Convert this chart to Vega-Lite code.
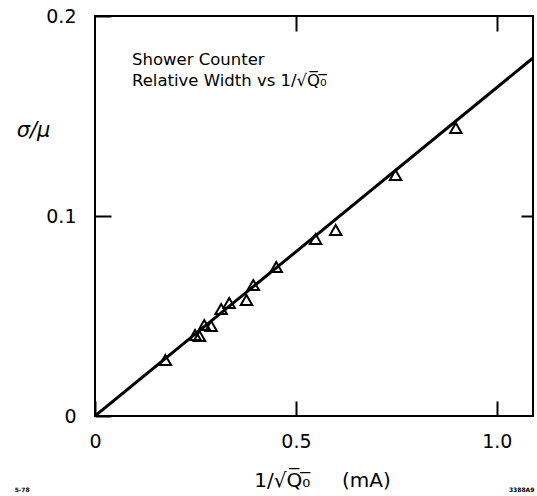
{
  "$schema": "https://vega.github.io/schema/vega-lite/v6.json",
  "width": 438,
  "height": 400,
  "autosize": {"type": "none"},
  "padding": {"left": 95, "top": 16, "right": 4, "bottom": 80},
  "background": "white",
  "config": {
    "view": {"stroke": "black", "strokeWidth": 2},
    "font": "DejaVu Sans",
    "axis": {
      "domain": false,
      "grid": false,
      "labelFlush": false,
      "tickColor": "black",
      "tickWidth": 2,
      "labelColor": "black",
      "titleColor": "black",
      "labelFont": "DejaVu Sans",
      "titleFont": "DejaVu Sans",
      "labelFontSize": 19,
      "titleFontSize": 19,
      "titleFontWeight": "normal"
    }
  },
  "datasets": {
    "fit": [
      {"q": 0, "ratio": 0},
      {"q": 1.09, "ratio": 0.179}
    ],
    "meas": [
      {"q": 0.175, "ratio": 0.028},
      {"q": 0.249, "ratio": 0.0405},
      {"q": 0.26, "ratio": 0.0400},
      {"q": 0.272, "ratio": 0.0455},
      {"q": 0.289, "ratio": 0.045},
      {"q": 0.314, "ratio": 0.0535},
      {"q": 0.334, "ratio": 0.0565},
      {"q": 0.377, "ratio": 0.058},
      {"q": 0.394, "ratio": 0.0655},
      {"q": 0.451, "ratio": 0.0745},
      {"q": 0.549, "ratio": 0.0885},
      {"q": 0.599, "ratio": 0.093},
      {"q": 0.748, "ratio": 0.1205},
      {"q": 0.898, "ratio": 0.144}
    ],
    "notes": [
      {"q": 0.092, "ratio": 0.178, "label": "Shower Counter"},
      {"q": 0.092, "ratio": 0.1675, "label": "Relative Width vs 1/√Q̅₀̅"}
    ],
    "stamps": [
      {"q": -0.2, "ratio": -0.037, "label": "5-78"},
      {"q": 1.03, "ratio": -0.037, "label": "3388A9"}
    ]
  },
  "layer": [
    {
      "data": {"name": "fit"},
      "mark": {"type": "line", "color": "black", "strokeWidth": 3, "clip": true},
      "encoding": {
        "x": {
          "field": "q", "type": "quantitative",
          "scale": {"domain": [0, 1.09], "nice": false, "zero": false},
          "axis": {
            "orient": "bottom",
            "values": [0, 0.5, 1.0],
            "tickSize": -15,
            "labelPadding": 31,
            "labelExpr": "datum.value == 0 ? '0' : format(datum.value, '.1f')",
            "title": "1/√Q̅₀̅\u00a0\u00a0\u00a0\u00a0\u00a0(mA)",
            "titleFontSize": 20,
            "titleX": 227,
            "titleY": 64,
            "titleBaseline": "middle"
          }
        },
        "y": {
          "field": "ratio", "type": "quantitative",
          "scale": {"domain": [0, 0.2], "nice": false, "zero": false},
          "axis": {
            "orient": "left",
            "values": [0, 0.1, 0.2],
            "tickSize": -16,
            "labelPadding": 35,
            "labelExpr": "datum.value == 0 ? '0' : format(datum.value, '.1f')",
            "title": "σ/μ",
            "titleAngle": 0,
            "titleFontSize": 21,
            "titleFontStyle": "italic",
            "titleX": -62,
            "titleY": 114,
            "titleAlign": "center",
            "titleBaseline": "middle"
          }
        }
      }
    },
    {
      "data": {"name": "meas"},
      "mark": {"type": "point", "shape": "triangle-up", "filled": false, "color": "black", "strokeWidth": 2, "size": 130, "opacity": 1},
      "encoding": {
        "x": {
          "field": "q", "type": "quantitative",
          "axis": {"orient": "top", "values": [0.5, 1.0], "tickSize": -15, "labels": false, "title": null}
        },
        "y": {
          "field": "ratio", "type": "quantitative",
          "axis": {"orient": "right", "values": [0.1], "tickSize": -12, "labels": false, "title": null}
        }
      }
    },
    {
      "data": {"name": "notes"},
      "mark": {"type": "text", "align": "left", "baseline": "middle", "fontSize": 16.5, "font": "DejaVu Sans", "color": "black"},
      "encoding": {
        "x": {"field": "q", "type": "quantitative", "axis": null},
        "y": {"field": "ratio", "type": "quantitative", "axis": null},
        "text": {"field": "label"}
      }
    },
    {
      "data": {"name": "stamps"},
      "mark": {"type": "text", "align": "left", "baseline": "middle", "fontSize": 6, "fontWeight": "bold", "font": "DejaVu Sans", "color": "black"},
      "encoding": {
        "x": {"field": "q", "type": "quantitative", "axis": null},
        "y": {"field": "ratio", "type": "quantitative", "axis": null},
        "text": {"field": "label"}
      }
    }
  ],
  "resolve": {"axis": {"x": "independent", "y": "independent"}}
}
